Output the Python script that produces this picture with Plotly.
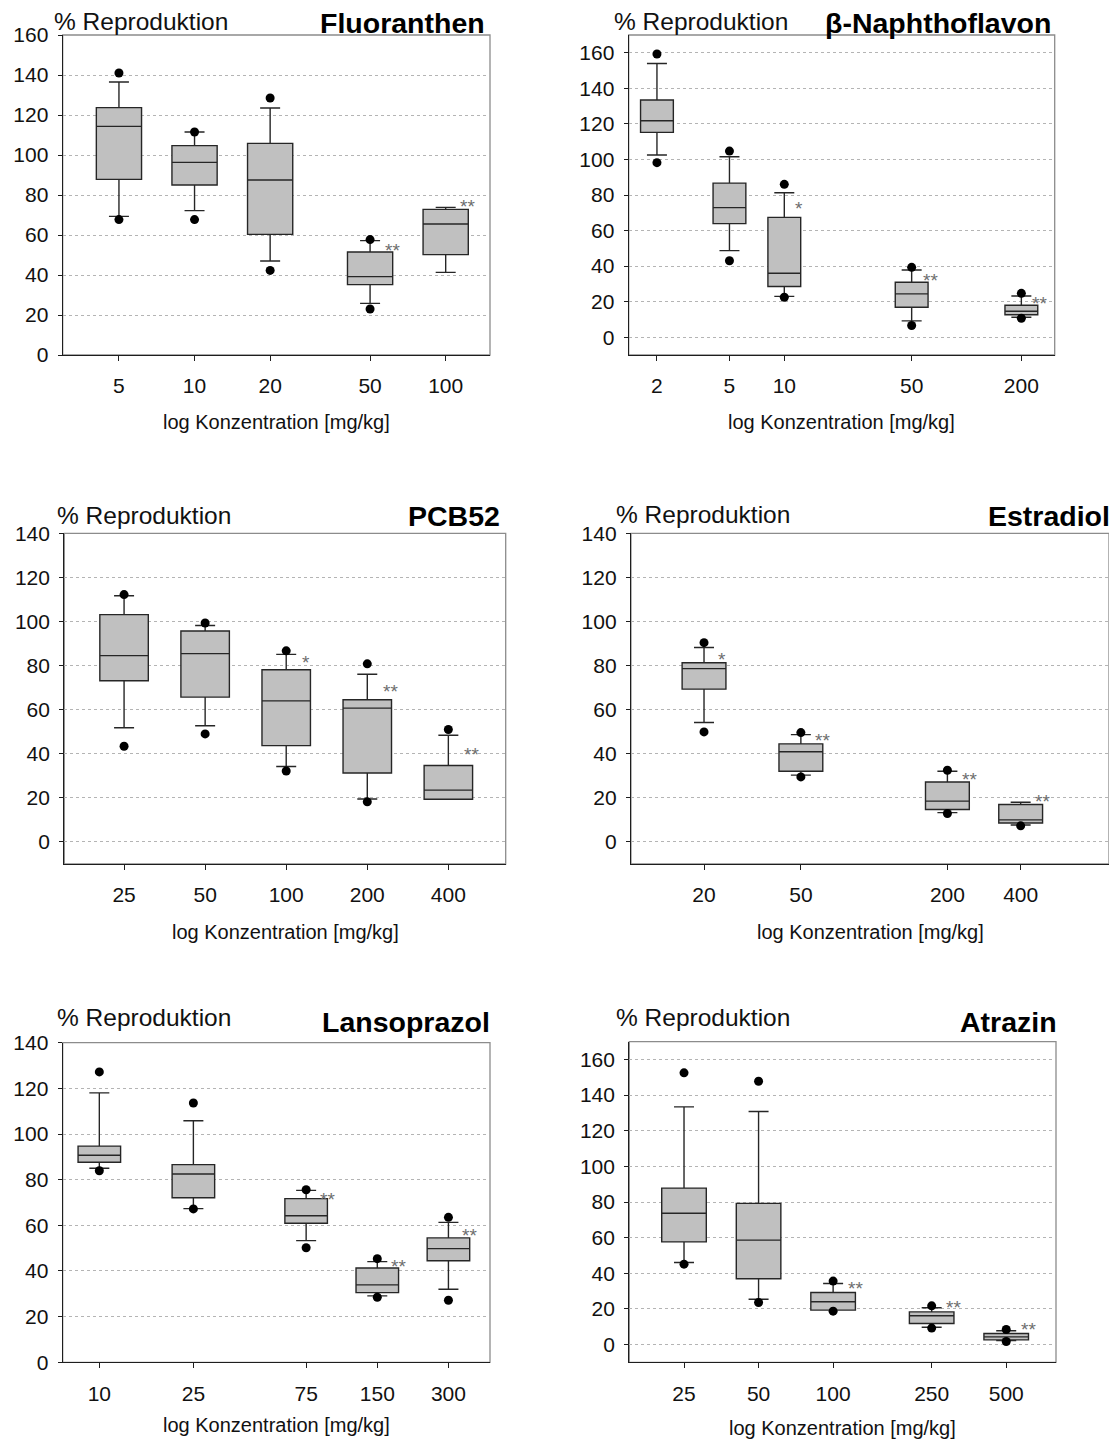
import math
import plotly.graph_objects as go

# ---------------- data ----------------
# each panel: concentrations, 5th pct (dot), 10th (whisker), Q1, median, Q3, 90th (whisker), 95th (dot)
FLU_CONC = [5, 10, 20, 50, 100]
FLU_LABELS = ["5", "10", "20", "50", "100"]
FLU_P5 = [67.7, 67.7, 42.3, 23.0, None]
FLU_P10 = [69.3, 72.2, 47.0, 25.8, 41.3]
FLU_Q1 = [87.8, 85.0, 60.3, 35.2, 50.2]
FLU_MED = [114.3, 96.3, 87.5, 39.2, 65.5]
FLU_Q3 = [123.7, 104.7, 105.8, 51.5, 72.8]
FLU_P90 = [136.5, 111.5, 123.5, 57.2, 73.8]
FLU_P95 = [141.0, 111.5, 128.5, 57.7, None]
FLU_SIG = ["", "", "", "**", "**"]
FLU_SIG_Y = [None, None, None, 54.8, 76.8]

NAP_CONC = [2, 5, 10, 50, 200]
NAP_LABELS = ["2", "5", "10", "50", "200"]
NAP_P5 = [98.2, 43.0, 22.5, 6.6, 10.7]
NAP_P10 = [102.5, 48.7, 23.0, 9.2, 11.2]
NAP_Q1 = [115.2, 63.9, 28.5, 16.9, 12.6]
NAP_MED = [121.8, 72.9, 36.0, 24.4, 14.6]
NAP_Q3 = [133.4, 86.7, 67.4, 30.9, 18.0]
NAP_P90 = [154.0, 101.5, 81.3, 37.8, 23.2]
NAP_P95 = [159.3, 104.7, 86.0, 39.3, 24.7]
NAP_SIG = ["", "", "*", "**", "**"]
NAP_SIG_Y = [None, None, 75.3, 34.5, 21.5]

PCB_CONC = [25, 50, 100, 200, 400]
PCB_LABELS = ["25", "50", "100", "200", "400"]
PCB_P5 = [43.4, 49.0, 32.2, 18.2, None]
PCB_P10 = [51.8, 52.7, 34.2, 19.5, 19.4]
PCB_Q1 = [73.1, 65.7, 43.7, 31.3, 19.4]
PCB_MED = [84.5, 85.4, 64.0, 60.7, 23.5]
PCB_Q3 = [103.1, 95.7, 78.1, 64.5, 34.7]
PCB_P90 = [111.7, 98.2, 85.1, 76.1, 48.4]
PCB_P95 = [112.2, 99.3, 86.7, 80.8, 51.0]
PCB_SIG = ["", "", "*", "**", "**"]
PCB_SIG_Y = [None, None, 83.7, 70.7, 41.8]

EST_CONC = [20, 50, 200, 400]
EST_LABELS = ["20", "50", "200", "400"]
EST_P5 = [49.9, 29.5, 12.9, 7.3]
EST_P10 = [54.2, 30.3, 13.3, 7.7]
EST_Q1 = [69.3, 32.1, 14.7, 8.6]
EST_MED = [78.6, 40.9, 18.5, 10.0]
EST_Q3 = [81.3, 44.5, 27.2, 17.0]
EST_P90 = [88.2, 48.7, 32.1, 18.0]
EST_P95 = [90.4, 49.6, 32.5, None]
EST_SIG = ["*", "**", "**", "**"]
EST_SIG_Y = [85.2, 48.4, 30.7, 20.7]

LAN_CONC = [10, 25, 75, 150, 300]
LAN_LABELS = ["10", "25", "75", "150", "300"]
LAN_P5 = [83.9, 67.2, 50.2, 28.5, 27.2]
LAN_P10 = [85.0, 67.3, 53.3, 29.1, 32.0]
LAN_Q1 = [87.6, 72.1, 60.9, 30.5, 44.5]
LAN_MED = [90.7, 82.5, 64.2, 33.9, 49.8]
LAN_Q3 = [94.7, 86.6, 71.7, 41.3, 54.5]
LAN_P90 = [118.0, 105.8, 75.3, 44.1, 61.3]
LAN_P95 = [127.2, 113.6, 75.6, 45.4, 63.5]
LAN_SIG = ["", "", "**", "**", "**"]
LAN_SIG_Y = [None, None, 73.6, 44.1, 57.7]

ATR_CONC = [25, 50, 100, 250, 500]
ATR_LABELS = ["25", "50", "100", "250", "500"]
ATR_P5 = [45.1, 23.6, 18.7, 9.2, 1.7]
ATR_P10 = [46.0, 25.4, 19.3, 9.7, 2.2]
ATR_Q1 = [57.6, 36.9, 19.3, 11.8, 2.6]
ATR_MED = [73.7, 58.6, 24.0, 16.1, 4.3]
ATR_Q3 = [87.8, 79.2, 29.2, 18.3, 6.2]
ATR_P90 = [133.4, 130.8, 34.2, 20.6, 7.7]
ATR_P95 = [152.5, 147.8, 35.6, 21.7, 8.4]
ATR_SIG = ["", "", "**", "**", "**"]
ATR_SIG_Y = [None, None, 34.2, 23.6, 11.2]

TITLES = ["Fluoranthen", "β-Naphthoflavon", "PCB52", "Estradiol", "Lansoprazol", "Atrazin"]
Y_LABEL = "% Reproduktion"
X_LABEL = "log Konzentration [mg/kg]"

# ---------------- layout (pixel geometry of the 1117x1441 page) ----------------
PAGE_W, PAGE_H = 1117, 1441
BODY = 8                      # default body margin of the html page
W, H = PAGE_W - BODY, PAGE_H - BODY
FONT = "Liberation Sans, Arial, Helvetica, sans-serif"

PANELS = [
    dict(data=(FLU_CONC, FLU_LABELS, FLU_P5, FLU_P10, FLU_Q1, FLU_MED, FLU_Q3, FLU_P90, FLU_P95, FLU_SIG, FLU_SIG_Y),
         px=(62.7, 490.0, 35.0, 355.0), xr=(0.475, 2.1765), yr=(0, 160),
         ylab=(-11, 31.5), title=(-3, 34.0), xt=75),
    dict(data=(NAP_CONC, NAP_LABELS, NAP_P5, NAP_P10, NAP_Q1, NAP_MED, NAP_Q3, NAP_P90, NAP_P95, NAP_SIG, NAP_SIG_Y),
         px=(628.7, 1054.7, 35.0, 355.0), xr=(0.146, 2.484), yr=(-10, 170),
         ylab=(-16.7, 31.5), title=(-2, 34.0), xt=75),
    dict(data=(PCB_CONC, PCB_LABELS, PCB_P5, PCB_P10, PCB_Q1, PCB_MED, PCB_Q3, PCB_P90, PCB_P95, PCB_SIG, PCB_SIG_Y),
         px=(64.3, 505.7, 533.3, 864.0), xr=(1.176, 2.815), yr=(-10, 140),
         ylab=(-9.3, 525.0), title=(-4, 526.7), xt=76),
    dict(data=(EST_CONC, EST_LABELS, EST_P5, EST_P10, EST_Q1, EST_MED, EST_Q3, EST_P90, EST_P95, EST_SIG, EST_SIG_Y),
         px=(631.0, 1109.0, 533.3, 864.0), xr=(1.001, 2.965), yr=(-10, 140),
         ylab=(-17.3, 524.3), title=(2.7, 526.7), xt=76),
    dict(data=(LAN_CONC, LAN_LABELS, LAN_P5, LAN_P10, LAN_Q1, LAN_MED, LAN_Q3, LAN_P90, LAN_P95, LAN_SIG, LAN_SIG_Y),
         px=(62.7, 490.0, 1042.7, 1362.3), xr=(0.845, 2.653), yr=(0, 140),
         ylab=(-7.7, 1027.3), title=(1.7, 1033.3), xt=71),
    dict(data=(ATR_CONC, ATR_LABELS, ATR_P5, ATR_P10, ATR_Q1, ATR_MED, ATR_Q3, ATR_P90, ATR_P95, ATR_SIG, ATR_SIG_Y),
         px=(629.3, 1056.0, 1041.7, 1362.3), xr=(1.177, 2.900), yr=(-10, 170),
         ylab=(-15, 1027.3), title=(2.7, 1033.3), xt=74),
]

BOX_W = 0.18  # box width in decades
AXIS_COL = "#1e1e1e"
FRAME_COL = "#8c8c8c"
GRID_COL = "#b4b4b4"
TXT_COL = "#111111"


def fx(px):
    return (px - BODY) / W


def fy(py):
    return 1 - (py - BODY) / H


fig = go.Figure()
layout = dict(width=W, height=H, margin=dict(l=0, r=0, t=0, b=0, pad=0), autosize=False,
              template="none", paper_bgcolor="white", plot_bgcolor="white", showlegend=False,
              font=dict(family=FONT, color=TXT_COL))
annotations = []
shapes = []

for i, p in enumerate(PANELS, start=1):
    conc, labels, p5, p10, q1, med, q3, p90, p95, sig, sig_y = p["data"]
    x0, x1, yt, yb = p["px"]
    sx = "" if i == 1 else str(i)
    xa, ya = "x" + sx, "y" + sx
    xs = [math.log10(c) for c in conc]
    px_per_dec = (x1 - x0) / (p["xr"][1] - p["xr"][0])
    ww = min(0.9, 20.0 / (BOX_W * px_per_dec))

    fig.add_trace(go.Box(
        x=xs, q1=q1, median=med, q3=q3, lowerfence=p10, upperfence=p90,
        orientation="v", width=BOX_W, whiskerwidth=ww, boxpoints=False,
        fillcolor="#c0c0c0", line=dict(color="#262626", width=1.4),
        xaxis=xa, yaxis=ya, hoverinfo="skip", showlegend=False))

    dx, dy = [], []
    for xv, a, b in zip(xs, p5, p95):
        if a is not None:
            dx.append(xv); dy.append(a)
        if b is not None:
            dx.append(xv); dy.append(b)
    fig.add_trace(go.Scatter(x=dx, y=dy, mode="markers",
                             marker=dict(size=9, color="black", line=dict(width=0)),
                             xaxis=xa, yaxis=ya, hoverinfo="skip", showlegend=False))

    for xv, s, sy in zip(xs, sig, sig_y):
        if s and sy is not None:
            annotations.append(dict(x=xv + 0.05, y=sy, xref=xa, yref=ya, text=s,
                                    showarrow=False, xanchor="left", yanchor="middle",
                                    yshift=-5, font=dict(size=19, color="#6e6e6e", family=FONT)))

    layout["xaxis" + sx] = dict(
        domain=[fx(x0), fx(x1)], range=list(p["xr"]), anchor=ya, automargin=False,
        tickmode="array", tickvals=xs, ticktext=labels,
        ticks="outside", ticklen=5, tickwidth=1.2, tickcolor=AXIS_COL,
        showline=True, linecolor=AXIS_COL, linewidth=1.3,
        showgrid=False, zeroline=False, ticklabelstandoff=7,
        tickfont=dict(size=21, family=FONT, color=TXT_COL), fixedrange=True)
    layout["yaxis" + sx] = dict(
        domain=[fy(yb), fy(yt)], range=list(p["yr"]), anchor=xa, automargin=False,
        tickmode="linear", tick0=0, dtick=20,
        ticks="outside", ticklen=4, tickwidth=1.2, tickcolor=AXIS_COL,
        showline=True, linecolor=AXIS_COL, linewidth=1.3,
        showgrid=True, gridcolor=GRID_COL, gridwidth=1, griddash="dot",
        zeroline=False, ticklabelstandoff=5,
        tickfont=dict(size=21, family=FONT, color=TXT_COL), fixedrange=True)

    shapes.append(dict(type="rect", xref=xa + " domain", yref=ya + " domain",
                       x0=0, x1=1, y0=0, y1=1, line=dict(color=FRAME_COL, width=1.3),
                       layer="below"))

    # y label above the axis, panel title at the right, x label below
    lx, lb = p["ylab"]
    annotations.append(dict(x=fx(x0 + lx), y=fy(lb + 6), xref="paper", yref="paper",
                            text=Y_LABEL, showarrow=False, xanchor="left", yanchor="bottom",
                            font=dict(size=24.5, family=FONT, color=TXT_COL)))
    tx, tb = p["title"]
    annotations.append(dict(x=fx(x1 + tx), y=fy(tb + 7), xref="paper", yref="paper",
                            text="<b>" + TITLES[i - 1] + "</b>", showarrow=False,
                            xanchor="right", yanchor="bottom",
                            font=dict(size=28.5, family=FONT, color="#000000")))
    annotations.append(dict(x=fx((x0 + x1) / 2), y=fy(yb + p["xt"] + 5), xref="paper", yref="paper",
                            text=X_LABEL, showarrow=False, xanchor="center", yanchor="bottom",
                            font=dict(size=20, family=FONT, color=TXT_COL)))

layout["annotations"] = annotations
layout["shapes"] = shapes
fig.update_layout(**layout)
fig.write_html("out.html")
